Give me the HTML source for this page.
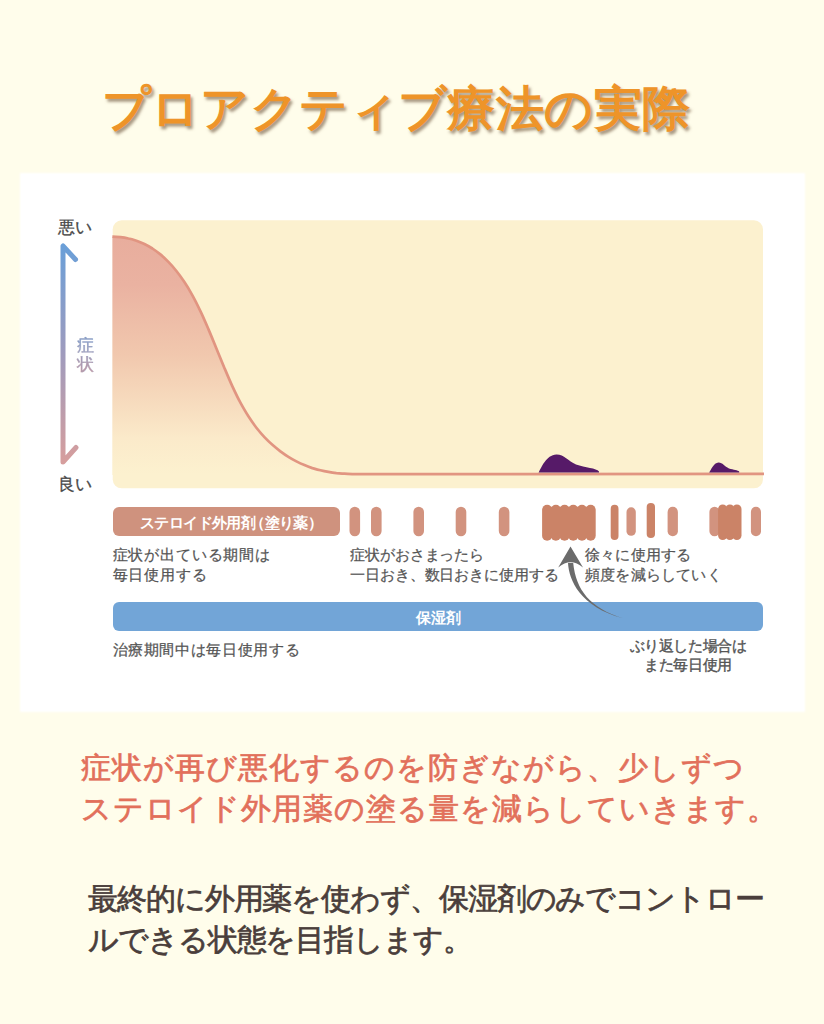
<!DOCTYPE html>
<html lang="ja">
<head>
<meta charset="utf-8">
<title>Proactive therapy</title>
<style>
html,body{margin:0;padding:0;}
body{width:824px;height:1024px;position:relative;overflow:hidden;background:#fffdeb;font-family:"Liberation Sans",sans-serif;color:#555;}
.abs{position:absolute;white-space:nowrap;}
h1{position:absolute;left:0;top:76px;width:792px;margin:0;text-align:center;font-size:48px;line-height:66px;font-weight:700;color:#ee9429;letter-spacing:0.4px;text-shadow:2px 3px 3px rgba(110,85,60,.6);white-space:nowrap;}
.panel{position:absolute;left:20.5px;top:173.5px;width:783px;height:537px;background:#fff;box-shadow:0 0 2px 1px #fff;}
svg.chart{position:absolute;left:0;top:0;}
.lbl{font-size:15px;line-height:20px;color:#555;letter-spacing:-0.4px;-webkit-text-stroke:0.25px #555;}
.ax{font-size:17px;line-height:22px;color:#4a4a4a;-webkit-text-stroke:0.3px #4a4a4a;}
.bar{position:absolute;color:#fff;font-weight:700;text-align:center;font-size:15px;white-space:nowrap;}
.red{position:absolute;left:81px;top:747px;font-size:30px;line-height:41px;letter-spacing:1px;color:#e2705b;white-space:nowrap;-webkit-text-stroke:0.7px #e2705b;}
.dark{position:absolute;left:88px;top:877.5px;font-size:30px;line-height:41px;letter-spacing:-1.1px;color:#4a3e3b;white-space:nowrap;-webkit-text-stroke:0.7px #4a3e3b;}
</style>
</head>
<body>
<h1>プロアクティブ療法の実際</h1>
<div class="panel"></div>

<svg class="chart" width="824" height="1024" viewBox="0 0 824 1024">
  <defs>
    <linearGradient id="gfill" x1="0" y1="237" x2="0" y2="474" gradientUnits="userSpaceOnUse">
      <stop offset="0" stop-color="#e8ad9d"/>
      <stop offset="0.2" stop-color="#eab2a1"/>
      <stop offset="0.5" stop-color="#f1c8ae"/>
      <stop offset="0.85" stop-color="#fbeaca"/>
      <stop offset="1" stop-color="#fcf1cf"/>
    </linearGradient>
    <linearGradient id="garrow" x1="0" y1="245" x2="0" y2="462" gradientUnits="userSpaceOnUse">
      <stop offset="0" stop-color="#6a9fd8"/>
      <stop offset="0.5" stop-color="#9f9bbd"/>
      <stop offset="1" stop-color="#d69e9d"/>
    </linearGradient>
  </defs>
  <!-- chart background -->
  <rect x="112.7" y="220.3" width="650.3" height="268" rx="9" ry="9" fill="#fcf1cf"/>
  <!-- area under curve -->
  <path d="M112.4 236.7 C115.1 236.7 117.7 236.9 120.4 237.2 C123.1 237.5 125.7 237.9 128.4 238.5 C131.1 239.0 133.7 239.8 136.4 240.7 C139.1 241.6 141.7 242.7 144.4 244.0 C147.1 245.3 149.7 246.8 152.4 248.5 C155.1 250.3 157.7 252.2 160.4 254.4 C163.1 256.6 165.7 259.1 168.4 261.9 C171.1 264.6 173.7 267.6 176.4 271.0 C179.1 274.3 181.7 278.0 184.4 282.0 C187.1 286.0 189.7 290.4 192.4 295.3 C195.1 300.1 197.7 305.4 200.4 311.1 C203.1 316.7 205.7 322.8 208.4 329.1 C211.1 335.4 213.7 341.9 216.4 348.4 C219.1 354.9 221.7 361.5 224.4 367.9 C227.1 374.3 229.7 380.5 232.4 386.4 C235.1 392.2 237.7 397.7 240.4 402.7 C243.1 407.6 245.7 412.2 248.4 416.3 C251.1 420.5 253.7 424.2 256.4 427.7 C259.1 431.1 261.7 434.2 264.4 437.1 C267.1 439.9 269.7 442.5 272.4 444.8 C275.1 447.2 277.7 449.3 280.4 451.3 C283.1 453.3 285.7 455.2 288.4 456.8 C291.1 458.5 293.7 460.0 296.4 461.4 C299.1 462.8 301.7 464.0 304.4 465.1 C307.1 466.2 309.7 467.2 312.4 468.1 C315.1 468.9 317.7 469.7 320.4 470.3 C323.1 471.0 325.7 471.5 328.4 471.9 C331.1 472.4 333.7 472.8 336.4 473.1 C339.1 473.3 341.7 473.6 344.4 473.7 C347.1 473.9 349.7 474.0 352.4 474.1 C354.9 474.1 357.5 474.1 360.0 474.1 L764 473.9 L764 475 L112.4 475 Z" fill="url(#gfill)"/>
  <path d="M112.4 236.7 C115.1 236.7 117.7 236.9 120.4 237.2 C123.1 237.5 125.7 237.9 128.4 238.5 C131.1 239.0 133.7 239.8 136.4 240.7 C139.1 241.6 141.7 242.7 144.4 244.0 C147.1 245.3 149.7 246.8 152.4 248.5 C155.1 250.3 157.7 252.2 160.4 254.4 C163.1 256.6 165.7 259.1 168.4 261.9 C171.1 264.6 173.7 267.6 176.4 271.0 C179.1 274.3 181.7 278.0 184.4 282.0 C187.1 286.0 189.7 290.4 192.4 295.3 C195.1 300.1 197.7 305.4 200.4 311.1 C203.1 316.7 205.7 322.8 208.4 329.1 C211.1 335.4 213.7 341.9 216.4 348.4 C219.1 354.9 221.7 361.5 224.4 367.9 C227.1 374.3 229.7 380.5 232.4 386.4 C235.1 392.2 237.7 397.7 240.4 402.7 C243.1 407.6 245.7 412.2 248.4 416.3 C251.1 420.5 253.7 424.2 256.4 427.7 C259.1 431.1 261.7 434.2 264.4 437.1 C267.1 439.9 269.7 442.5 272.4 444.8 C275.1 447.2 277.7 449.3 280.4 451.3 C283.1 453.3 285.7 455.2 288.4 456.8 C291.1 458.5 293.7 460.0 296.4 461.4 C299.1 462.8 301.7 464.0 304.4 465.1 C307.1 466.2 309.7 467.2 312.4 468.1 C315.1 468.9 317.7 469.7 320.4 470.3 C323.1 471.0 325.7 471.5 328.4 471.9 C331.1 472.4 333.7 472.8 336.4 473.1 C339.1 473.3 341.7 473.6 344.4 473.7 C347.1 473.9 349.7 474.0 352.4 474.1 C354.9 474.1 357.5 474.1 360.0 474.1 L764 473.9" fill="none" stroke="#e19581" stroke-width="2.7"/>
  <!-- flare-up bumps -->
  <path d="M538.6 472.4 C541.5 468 546 455 556.4 454.6 C564 454.4 568 461 576 464.6 C585 467.6 596.5 468.4 599 471.4 L599 472.4 Z" fill="#561a68"/>
  <path d="M709.2 472.4 C711 470 713.5 462.8 718.5 462.5 C722.5 462.4 724.5 466.5 729 468.4 C733.5 469.8 738 469.8 739.2 471.6 L739.2 472.4 Z" fill="#561a68"/>
  <!-- left axis arrow -->
  <path d="M75.5 259.5 L63 246 L63 462 L76 447.5" fill="none" stroke="url(#garrow)" stroke-width="5" stroke-linecap="round" stroke-linejoin="round"/>
  <!-- steroid application bars -->
  <rect x="349.5" y="506.8" width="10.6" height="29.5" rx="5.3" fill="#d2937f"/>
  <rect x="371.0" y="506.8" width="10.6" height="29.5" rx="5.3" fill="#d2937f"/>
  <rect x="413.4" y="506.8" width="10.6" height="29.5" rx="5.3" fill="#d2937f"/>
  <rect x="455.7" y="506.8" width="10.6" height="29.5" rx="5.3" fill="#d2937f"/>
  <rect x="498.8" y="506.8" width="10.6" height="29.5" rx="5.3" fill="#d2937f"/>
  <rect x="542.1" y="504.8" width="10.1" height="36.0" rx="5.1" fill="#cb8367"/>
  <rect x="550.8" y="504.8" width="10.1" height="36.0" rx="5.1" fill="#cb8367"/>
  <rect x="559.5" y="504.8" width="10.1" height="36.0" rx="5.1" fill="#cb8367"/>
  <rect x="568.2" y="504.8" width="10.1" height="36.0" rx="5.1" fill="#cb8367"/>
  <rect x="576.9" y="504.8" width="10.1" height="36.0" rx="5.1" fill="#cb8367"/>
  <rect x="585.6" y="504.8" width="10.1" height="36.0" rx="5.1" fill="#cb8367"/>
  <rect x="546" y="507" width="45" height="31" fill="#cb8367"/>
  <rect x="610.7" y="504.8" width="7.8" height="35.2" rx="3.9" fill="#cb8367"/>
  <rect x="626.5" y="507.3" width="9.3" height="28.5" rx="4.6" fill="#d2937f"/>
  <rect x="646.7" y="502.9" width="8.3" height="35.1" rx="4.1" fill="#cb8367"/>
  <rect x="667.6" y="506.8" width="10.3" height="29.5" rx="5.1" fill="#d2937f"/>
  <rect x="709.4" y="506.8" width="10.3" height="29.5" rx="5.2" fill="#d2937f"/>
  <rect x="718.1" y="504.5" width="9.2" height="35.5" rx="4.6" fill="#cb8367"/>
  <rect x="725.3" y="504.5" width="9.2" height="35.5" rx="4.6" fill="#cb8367"/>
  <rect x="732.3" y="504.5" width="9.2" height="35.5" rx="4.6" fill="#cb8367"/>
  <rect x="722" y="507" width="15" height="30" fill="#cb8367"/>
  <rect x="750.9" y="506.8" width="10.1" height="29.5" rx="5.1" fill="#d2937f"/>
</svg>

<div class="abs ax" style="left:58px;top:217px;">悪い</div>
<div class="abs ax" style="left:58px;top:473.5px;">良い</div>
<div class="abs" style="left:76px;top:337.3px;font-size:17px;line-height:18.3px;width:18px;white-space:normal;text-align:center;color:#9a9bbb;background:linear-gradient(#7a9ccb,#c59aa4);-webkit-background-clip:text;background-clip:text;-webkit-text-fill-color:transparent;-webkit-text-stroke:0.3px rgba(154,155,187,.6);">症状</div>

<div class="bar" style="left:112.6px;top:507px;width:227.2px;height:29px;line-height:31.2px;text-indent:3px;background:#cf927e;border-radius:6px;letter-spacing:-0.6px;">ステロイド外用剤<span style="margin-left:-5px">（</span>塗り薬<span style="margin-right:-7px">）</span></div>
<div class="bar" style="left:112.6px;top:602.2px;width:650.4px;height:28.8px;line-height:31.2px;text-indent:1px;background:#72a5d7;border-radius:6px;">保湿剤</div>

<svg class="chart" width="824" height="1024" viewBox="0 0 824 1024">
  <!-- curved arrow -->
  <path d="M568 563 C569 580 580 607 623 618.2 C590 608 576 590 573.2 563 Z" fill="#6b6b6b"/>
  <path d="M570.5 546.5 L583 567.6 Q570.7 557 558.2 567.6 Z" fill="#6b6b6b"/>
</svg>

<div class="abs lbl" style="left:112.5px;top:544.7px;letter-spacing:0.85px;">症状が出ている期間は<br>毎日使用する</div>
<div class="abs lbl" style="left:350px;top:544.7px;letter-spacing:-0.1px;">症状がおさまったら<br>一日おき、数日おきに使用する</div>
<div class="abs lbl" style="left:585px;top:544.7px;letter-spacing:0.2px;">徐々に使用する<br>頻度を減らしていく</div>
<div class="abs lbl" style="left:112.5px;top:640px;letter-spacing:0.65px;">治療期間中は毎日使用する</div>
<div class="abs lbl" style="left:608px;top:635.5px;width:160px;text-align:center;line-height:19.7px;-webkit-text-stroke:0.4px #555;">ぶり返した場合は<br>また毎日使用</div>

<div class="red">症状が再び悪化するのを防ぎながら、少しずつ<br>ステロイド外用薬の塗る量を減らしていきます。</div>
<div class="dark">最終的に外用薬を使わず、保湿剤のみでコントロー<br>ルできる状態を目指します。</div>
</body>
</html>
